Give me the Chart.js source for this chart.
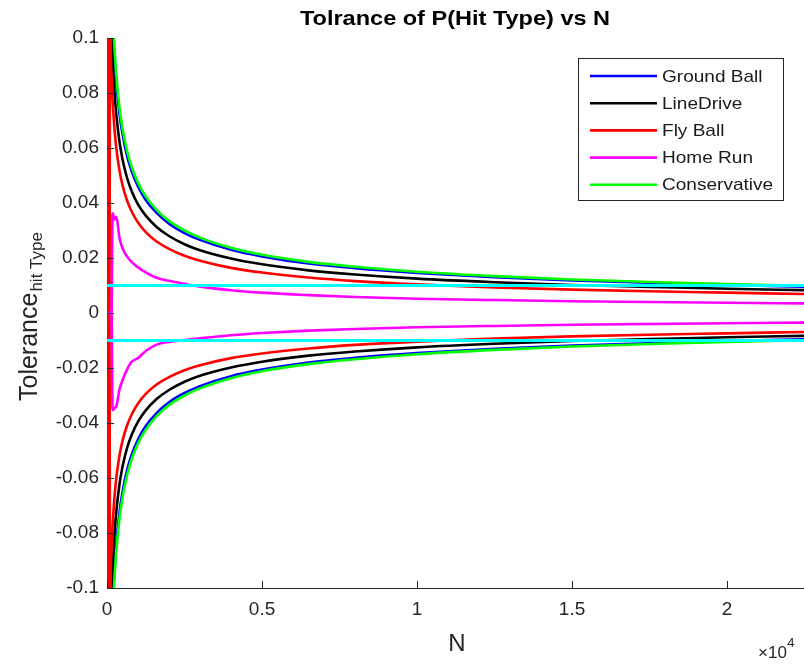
<!DOCTYPE html>
<html>
<head>
<meta charset="utf-8">
<script src="https://cdn.jsdelivr.net/npm/chart.js@4.4.1/dist/chart.umd.min.js"></script>
<style>
  html, body { margin: 0; padding: 0; background: #ffffff; }
  #wrap { width: 804px; height: 664px; position: relative; }
</style>
</head>
<body>
<div id="wrap"><canvas id="c" width="804" height="664"></canvas></div>
<script>
// ---------------- DATA ----------------
const titleText = 'Tolrance of P(Hit Type) vs N';
const hitTypes = ['Ground Ball', 'LineDrive', 'Fly Ball', 'Home Run', 'Conservative'];
const xTickValues = [0, 5000, 10000, 15000, 20000];
const xTickLabels = ['0', '0.5', '1', '1.5', '2'];
const yTickValues = [-0.1, -0.08, -0.06, -0.04, -0.02, 0, 0.02, 0.04, 0.06, 0.08, 0.1];
const yTickLabels = ['-0.1', '-0.08', '-0.06', '-0.04', '-0.02', '0', '0.02', '0.04', '0.06', '0.08', '0.1'];

// sample sizes N
const sampleN = [1, 10, 20, 35, 50, 65, 80, 100, 120, 150, 175, 190, 215, 250, 300, 400, 500, 650, 800, 1000,
  1250, 1600, 2000, 2500, 3000, 4000, 5000, 6500, 8000, 10000, 12500, 15000, 17500, 20000, 22500];

// upper tolerance curves
const groundUpper = [1.455, 0.46, 0.325, 0.246, 0.206, 0.18, 0.163, 0.1455, 0.133, 0.119, 0.11, 0.106, 0.099, 0.092, 0.084,
  0.0728, 0.0651, 0.057, 0.0514, 0.046, 0.0411, 0.0364, 0.0325, 0.0291, 0.0266, 0.023, 0.0206, 0.018, 0.0163, 0.0146,
  0.013, 0.0118, 0.011, 0.0102, 0.0096];
const lineUpper = [1.25, 0.395, 0.28, 0.211, 0.177, 0.155, 0.14, 0.125, 0.114, 0.102, 0.0945, 0.0907, 0.0853, 0.079, 0.0722,
  0.0625, 0.0559, 0.049, 0.0442, 0.0395, 0.0354, 0.0313, 0.028, 0.025, 0.0228, 0.0198, 0.0177, 0.0155, 0.014, 0.0125,
  0.0112, 0.0102, 0.0095, 0.0088, 0.0083];
const flyUpper = [0, 0.45, 0, 0.25, 0, 0.17, 0, 0.135, 0.096, 0.085, 0.0786, 0.0755, 0.0709, 0.0658, 0.06,
  0.052, 0.0465, 0.0408, 0.0368, 0.0329, 0.0294, 0.026, 0.0233, 0.0208, 0.019, 0.0164, 0.0147, 0.0129, 0.0116, 0.0104,
  0.0093, 0.0085, 0.0079, 0.0074, 0.0069];
const homeUpper = [0, 0, 0, 0, 0, 0, 0, 0, 0, 0, 0.0355, 0.0363, 0.0348, 0.034, 0.035,
  0.0275, 0.0235, 0.0205, 0.0185, 0.0166, 0.0148, 0.0128, 0.0117, 0.0106, 0.0096, 0.0083, 0.0074, 0.0065, 0.0058, 0.0052,
  0.0047, 0.0043, 0.004, 0.0037, 0.0035];
const consUpper = [1.5, 0.474, 0.335, 0.254, 0.212, 0.186, 0.168, 0.15, 0.137, 0.122, 0.113, 0.109, 0.102, 0.0949, 0.0866,
  0.075, 0.0671, 0.0588, 0.053, 0.0474, 0.0424, 0.0375, 0.0335, 0.03, 0.0274, 0.0237, 0.0212, 0.0186, 0.0168, 0.015,
  0.0134, 0.0122, 0.0113, 0.0105, 0.0099];

// lower tolerance curves
const groundLower = [-1.455, -0.46, -0.325, -0.246, -0.206, -0.18, -0.163, -0.1455, -0.133, -0.119, -0.11, -0.106, -0.099, -0.092, -0.084,
  -0.0728, -0.0651, -0.057, -0.0514, -0.046, -0.0411, -0.0364, -0.0325, -0.0291, -0.0266, -0.023, -0.0206, -0.018, -0.0163, -0.0146,
  -0.013, -0.0118, -0.011, -0.0102, -0.0096];
const lineLower = [-1.25, -0.395, -0.28, -0.211, -0.177, -0.155, -0.14, -0.125, -0.114, -0.102, -0.0945, -0.0907, -0.0853, -0.079, -0.0722,
  -0.0625, -0.0559, -0.049, -0.0442, -0.0395, -0.0354, -0.0313, -0.028, -0.025, -0.0228, -0.0198, -0.0177, -0.0155, -0.014, -0.0125,
  -0.0112, -0.0102, -0.0095, -0.0088, -0.0083];
const flyLower = [0, -0.45, 0, -0.25, 0, -0.17, 0, -0.135, -0.096, -0.085, -0.0786, -0.0755, -0.0709, -0.0658, -0.06,
  -0.052, -0.0465, -0.0408, -0.0368, -0.0329, -0.0294, -0.026, -0.0233, -0.0208, -0.019, -0.0164, -0.0147, -0.0129, -0.0116, -0.0104,
  -0.0093, -0.0085, -0.0079, -0.0074, -0.0069];
const homeLower = [0, 0, 0, 0, 0, 0, 0, 0, 0, 0, -0.034, -0.0353, -0.035, -0.0345, -0.034,
  -0.028, -0.0245, -0.0205, -0.0177, -0.0164, -0.0138, -0.0115, -0.0105, -0.0098, -0.0092, -0.0081, -0.0073, -0.0064, -0.0058, -0.0052,
  -0.0047, -0.0043, -0.004, -0.0037, -0.0035];
const consLower = [-1.5, -0.474, -0.335, -0.254, -0.212, -0.186, -0.168, -0.15, -0.137, -0.122, -0.113, -0.109, -0.102, -0.0949, -0.0866,
  -0.075, -0.0671, -0.0588, -0.053, -0.0474, -0.0424, -0.0375, -0.0335, -0.03, -0.0274, -0.0237, -0.0212, -0.0186, -0.0168, -0.015,
  -0.0134, -0.0122, -0.0113, -0.0105, -0.0099];

// horizontal reference lines (±0.01)
const refUpper = [0.01, 0.01];
const refLower = [-0.01, -0.01];

// ---------------- STYLE ----------------
const FONT = '"Liberation Sans", Arial, Helvetica, sans-serif';
const AXIS_COLOR = '#262626';
const seriesColors = ['#0000ff', '#000000', '#ff0000', '#ff00ff', '#00ff00'];
const seriesOrder = [5, 4, 3, 2, 1];
const LW = 2.6;

function pts(vals) { return vals.map((v, i) => ({ x: sampleN[i], y: v })); }
function refPts(vals) { return [{ x: sampleN[0], y: vals[0] }, { x: sampleN[sampleN.length - 1], y: vals[1] }]; }

const uppers = [groundUpper, lineUpper, flyUpper, homeUpper, consUpper];
const lowers = [groundLower, lineLower, flyLower, homeLower, consLower];
const datasets = [];
hitTypes.forEach((name, k) => {
  datasets.push({ label: name, data: pts(uppers[k]), borderColor: seriesColors[k], order: seriesOrder[k] });
});
hitTypes.forEach((name, k) => {
  datasets.push({ label: name + ' (lower)', data: pts(lowers[k]), borderColor: seriesColors[k], order: seriesOrder[k] });
});
datasets.push({ label: 'ref+', data: refPts(refUpper), borderColor: '#00ffff', order: 0, borderWidth: 3, cubicInterpolationMode: 'default', tension: 0 });
datasets.push({ label: 'ref-', data: refPts(refLower), borderColor: '#00ffff', order: 0, borderWidth: 3, cubicInterpolationMode: 'default', tension: 0 });

function drawStretched(ctx, text, x, y, sx) {
  ctx.save();
  ctx.translate(x, y);
  ctx.scale(sx, 1);
  ctx.fillText(text, 0, 0);
  ctx.restore();
}

const decorPlugin = {
  id: 'decor',
  afterDatasetsDraw(chart) {
    const ctx = chart.ctx;
    const area = chart.chartArea;
    const xs = chart.scales.x, ys = chart.scales.y;
    ctx.save();
    // inward tick marks
    ctx.strokeStyle = AXIS_COLOR;
    ctx.lineWidth = 1;
    ctx.beginPath();
    xs.ticks.forEach(t => {
      const px = Math.round(xs.getPixelForValue(t.value)) + 0.5;
      ctx.moveTo(px, area.bottom);
      ctx.lineTo(px, area.bottom - 7);
    });
    ys.ticks.forEach(t => {
      const py = Math.round(ys.getPixelForValue(t.value)) + 0.5;
      ctx.moveTo(area.left, py);
      ctx.lineTo(area.left + 7, py);
    });
    ctx.stroke();

    // title
    ctx.fillStyle = '#000000';
    ctx.font = 'bold 21px ' + FONT;
    ctx.textBaseline = 'alphabetic';
    ctx.textAlign = 'left';
    const tw = ctx.measureText(titleText).width * 1.12;
    drawStretched(ctx, titleText, 455 - tw / 2, 25, 1.12);

    // x label
    ctx.fillStyle = AXIS_COLOR;
    ctx.font = '24px ' + FONT;
    ctx.textAlign = 'center';
    ctx.fillText('N', 457, 651);

    // x exponent
    ctx.textAlign = 'left';
    ctx.font = '17px ' + FONT;
    ctx.fillText('\u00d710', 758, 658);
    const ew = ctx.measureText('\u00d710').width;
    ctx.font = '13px ' + FONT;
    ctx.fillText('4', 758 + ew + 0.5, 647);

    // y label with subscript
    ctx.save();
    ctx.translate(37, 401);
    ctx.rotate(-Math.PI / 2);
    ctx.font = '25px ' + FONT;
    ctx.textAlign = 'left';
    ctx.fillText('Tolerance', 0, 0);
    const w = ctx.measureText('Tolerance').width;
    ctx.font = '17px ' + FONT;
    ctx.fillText('hit Type', w + 1, 5);
    ctx.restore();

    // legend
    const bx = 578.5, by = 58.5, bw = 205, bh = 142;
    ctx.fillStyle = '#ffffff';
    ctx.fillRect(bx, by, bw, bh);
    ctx.strokeStyle = AXIS_COLOR;
    ctx.lineWidth = 1;
    ctx.strokeRect(bx, by, bw, bh);
    ctx.font = '17px ' + FONT;
    ctx.textBaseline = 'middle';
    hitTypes.forEach((name, k) => {
      const ly = 76 + k * 27.2;
      ctx.strokeStyle = seriesColors[k];
      ctx.lineWidth = LW;
      ctx.beginPath();
      ctx.moveTo(590, ly);
      ctx.lineTo(657, ly);
      ctx.stroke();
      ctx.fillStyle = '#1a1a1a';
      drawStretched(ctx, name, 662, ly + 1, 1.12);
    });
    ctx.restore();
  }
};

new Chart(document.getElementById('c').getContext('2d'), {
  type: 'line',
  data: { datasets },
  options: {
    responsive: false,
    animation: false,
    devicePixelRatio: 1,
    layout: { padding: { top: 38, right: 0, left: 0, bottom: 0 } },
    plugins: { legend: { display: false }, title: { display: false }, tooltip: { enabled: false } },
    elements: {
      point: { radius: 0, hoverRadius: 0 },
      line: { borderWidth: LW, cubicInterpolationMode: 'monotone', fill: false, borderCapStyle: 'butt', borderJoinStyle: 'round' }
    },
    scales: {
      x: {
        type: 'linear', min: 0, max: 22480, bounds: 'data',
        grid: { display: false, drawTicks: false },
        border: { display: true, color: AXIS_COLOR, width: 1 },
        afterBuildTicks(s) { s.ticks = xTickValues.map(v => ({ value: v })); },
        ticks: {
          autoSkip: false, maxRotation: 0, padding: 10,
          color: AXIS_COLOR, font: { size: 19, family: FONT },
          callback: (v, i) => xTickLabels[i]
        },
        afterFit(s) { s.height = 76; }
      },
      y: {
        type: 'linear', min: -0.1, max: 0.1, bounds: 'data',
        grid: { display: false, drawTicks: false },
        border: { display: true, color: AXIS_COLOR, width: 1 },
        afterBuildTicks(s) { s.ticks = yTickValues.map(v => ({ value: v })); },
        ticks: {
          autoSkip: false, padding: 8,
          color: AXIS_COLOR, font: { size: 19, family: FONT },
          callback: (v, i) => yTickLabels[i]
        },
        afterFit(s) { s.width = 107; }
      }
    }
  },
  plugins: [decorPlugin]
});
</script>
</body>
</html>
